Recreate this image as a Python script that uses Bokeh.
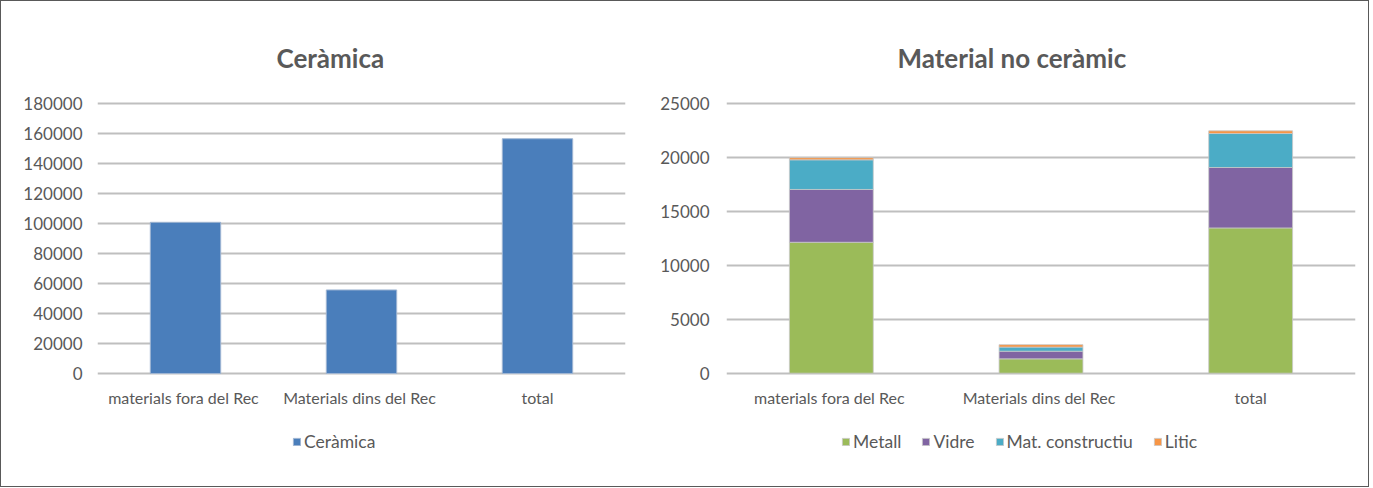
from bokeh.plotting import figure
from bokeh.models import (FactorRange, Range1d, FixedTicker, Legend, LegendItem,
                          Title, NumeralTickFormatter, ColumnDataSource)
from bokeh.layouts import row
from bokeh.embed import file_html
from bokeh.resources import INLINE

# ---------------- data ----------------
categories = ["materials  fora del Rec", "Materials  dins del Rec", "total"]
ceramica = [100800, 55700, 156500]
metall = [12150, 1330, 13480]
vidre = [4900, 710, 5610]
mat_constructiu = [2750, 380, 3150]
litic = [200, 230, 250]
left_ticks = [0, 20000, 40000, 60000, 80000, 100000, 120000, 140000, 160000, 180000]
right_ticks = [0, 5000, 10000, 15000, 20000, 25000]
stack_labels = ["Metall", "Vidre", "Mat. constructiu", "Litic"]

# ---------------- style ----------------
FONT = "Lato"
TXT = "#595959"
GRID = "#BFBFBF"
BLUE = "#4A7EBB"
STACK_COLORS = ["#9BBB59", "#8064A2", "#4BACC6", "#F79646"]


def style(p, ticks, yst):
    p.xgrid.grid_line_color = None
    p.ygrid.grid_line_color = GRID
    p.ygrid.grid_line_width = 2
    p.yaxis.ticker = FixedTicker(ticks=ticks)
    p.yaxis.formatter = NumeralTickFormatter(format="0")
    p.xaxis.fixed_location = 0
    for ax in (p.xaxis, p.yaxis):
        ax.axis_line_color = None
        ax.major_tick_line_color = None
        ax.minor_tick_line_color = None
        ax.major_tick_out = 0
        ax.major_tick_in = 0
        ax.minor_tick_out = 0
        ax.major_label_text_font = FONT
        ax.major_label_text_color = TXT
    p.xaxis.major_label_text_font_size = "16px"
    p.yaxis.major_label_text_font_size = "17px"
    p.xaxis.major_label_standoff = 15
    p.yaxis.major_label_standoff = yst


def legend(p, items, x, spacing):
    lg = Legend(items=items, orientation="horizontal", location=(x, 24),
                border_line_color=None, background_fill_alpha=0,
                padding=2, margin=0, spacing=spacing,
                glyph_width=9, glyph_height=9, label_standoff=3,
                label_text_font=FONT, label_text_font_size="17.5px",
                label_text_color=TXT)
    p.add_layout(lg, "center")


def title(p, text, offset):
    p.add_layout(Title(text=text, align="left", offset=offset, standoff=55,
                       text_font=FONT, text_font_size="26px",
                       text_font_style="bold", text_color=TXT), "above")


# ---------------- left chart ----------------
p1 = figure(width=635, height=485,
            x_range=FactorRange(*categories, range_padding=0),
            y_range=Range1d(-68667, 181333),
            output_backend="svg", toolbar_location=None,
            min_border_left=96, min_border_right=11,
            min_border_top=100, min_border_bottom=10,
            outline_line_color=None)
style(p1, left_ticks, 15)
src1 = ColumnDataSource(dict(cat=categories, val=ceramica))
r1 = p1.vbar(x="cat", top="val", width=0.4, source=src1,
             fill_color=BLUE, line_color="#9fb6d3", line_width=1)
legend(p1, [LegendItem(label="Ceràmica", renderers=[r1])], 195, 17)
title(p1, "Ceràmica", 179)

# ---------------- right chart ----------------
p2 = figure(width=732, height=485,
            x_range=FactorRange(*categories, range_padding=0),
            y_range=Range1d(-9586, 25213),
            output_backend="svg", toolbar_location=None,
            min_border_left=90, min_border_right=13,
            min_border_top=100, min_border_bottom=10,
            outline_line_color=None)
style(p2, right_ticks, 17)
src2 = ColumnDataSource(dict(cat=categories, Metall=metall, Vidre=vidre,
                             **{"Mat. constructiu": mat_constructiu}, Litic=litic))
rs = p2.vbar_stack(stack_labels, x="cat", width=0.4, source=src2,
                   fill_color=STACK_COLORS, line_color="#c8c8c8", line_width=0.8)
legend(p2, [LegendItem(label=l, renderers=[r]) for l, r in zip(stack_labels, rs)], 115, 20)
title(p2, "Material no ceràmic", 171)

layout = row(p1, p2, styles={"border": "1px solid #595959"})

open("out.html", "w").write(file_html(layout, INLINE))
